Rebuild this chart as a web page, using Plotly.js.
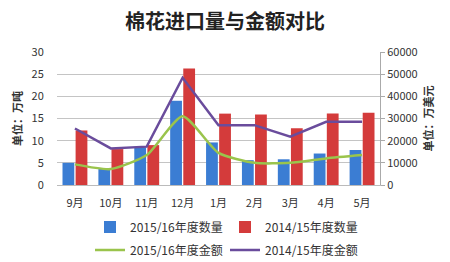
<!DOCTYPE html>
<html><head><meta charset="utf-8">
<script src="https://cdn.plot.ly/plotly-3.0.1.min.js"></script>
<style>html,body{margin:0;padding:0;background:#fff;}#c{width:450px;height:262px;}</style>
</head><body><div id="c"></div>
<script>
const months = ['9月','10月','11月','12月','1月','2月','3月','4月','5月'];
const qty1516 = [5.0, 3.6, 8.5, 19.0, 9.6, 5.6, 5.8, 7.1, 7.9];
const qty1415 = [12.3, 8.1, 9.0, 26.3, 16.1, 15.9, 12.8, 16.1, 16.3];
const amt1516 = [9300, 7200, 13500, 31000, 14500, 10000, 10000, 12000, 13500];
const amt1415 = [25500, 16500, 17300, 48400, 27000, 27000, 21800, 28500, 28500];

const font = "'Noto Sans CJK SC', 'Noto Sans', sans-serif";
const traces = [
  {type:'bar', name:'2015/16年度数量', x:months, y:qty1516, marker:{color:'#3b7dd3'}, legend:'legend'},
  {type:'bar', name:'2014/15年度数量', x:months, y:qty1415, marker:{color:'#d43b3b'}, legend:'legend'},
  {type:'scatter', mode:'lines', name:'2015/16年度金额', x:months, y:amt1516, yaxis:'y2', line:{color:'#9ac44c', width:2.5, shape:'spline', smoothing:0.6}, legend:'legend2'},
  {type:'scatter', mode:'lines', name:'2014/15年度金额', x:months, y:amt1415, yaxis:'y2', line:{color:'#6a4c9c', width:2.5}, legend:'legend2'}
];
const legendBase = {orientation:'h', x:0.5, xref:'container', xanchor:'center', yref:'container', yanchor:'middle', font:{size:12, color:'#333'}, itemwidth:30, entrywidth:90, tracegroupgap:0, bgcolor:'rgba(0,0,0,0)'};
const layout = {
  width:450, height:262,
  margin:{l:57, r:70, t:52, b:77, autoexpand:false},
  paper_bgcolor:'#ffffff', plot_bgcolor:'#ffffff',
  font:{family:font, size:11, color:'#333'},
  title:{text:'<b>棉花进口量与金额对比</b>', x:0.5, xanchor:'center', y:0.915, yanchor:'middle', font:{family:font, size:20, color:'#222'}},
  barmode:'group', bargap:0.27, bargroupgap:0.1,
  xaxis:{showgrid:false, showline:true, linecolor:'#bbb', linewidth:1, ticks:'outside', ticklen:8, tickcolor:'rgba(0,0,0,0)', tickfont:{size:11, color:'#333'}, fixedrange:true},
  yaxis:{range:[0,30], dtick:5, showgrid:true, gridcolor:'#c4c4c4', gridwidth:1, zeroline:false, showline:false, ticks:'outside', ticklen:10, tickcolor:'rgba(0,0,0,0)', tickfont:{size:11, color:'#333'},
         title:{text:'<b>单位：万吨</b>', font:{size:11, color:'#333'}, standoff:6}},
  yaxis2:{overlaying:'y', side:'right', range:[0,60000], dtick:10000, tickformat:'d', showgrid:false, zeroline:false, showline:true, linecolor:'#aaa', ticks:'outside', ticklen:4, tickcolor:'#aaa', tickfont:{size:11, color:'#333'},
         title:{text:'<b>单位：万美元</b>', font:{size:11, color:'#333'}, standoff:8}},
  showlegend:true,
  legend:Object.assign({}, legendBase, {y:0.134}),
  legend2:Object.assign({}, legendBase, {y:0.046})
};
Plotly.newPlot('c', traces, layout, {displayModeBar:false, staticPlot:true});
</script></body></html>
